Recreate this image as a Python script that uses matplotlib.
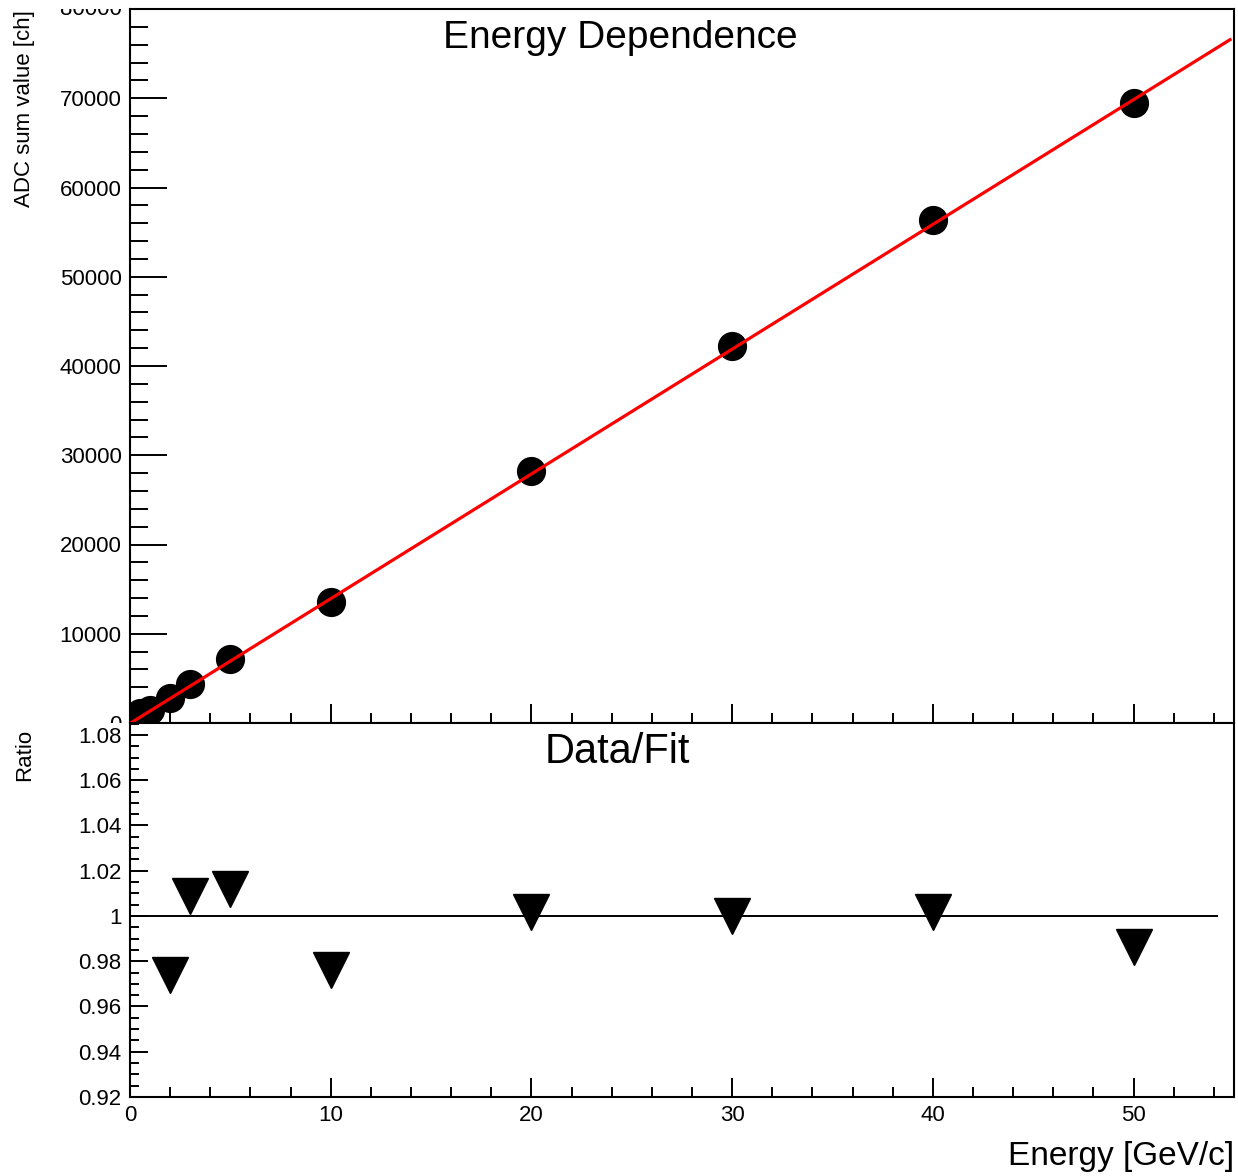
"""Energy dependence of the ADC sum with a Data/Fit ratio panel (ROOT-like look)."""
import matplotlib
matplotlib.use("Agg")
import matplotlib.pyplot as plt
from matplotlib.patches import Rectangle
from matplotlib.ticker import FuncFormatter, MultipleLocator
from matplotlib.transforms import Bbox, TransformedBbox

# --------------------------------------------------------------------------- #
# data
# --------------------------------------------------------------------------- #
energy = [0.5, 1, 2, 3, 5, 10, 20, 30, 40, 50]
adc_sum = [1100, 1450, 2800, 4350, 7170, 13580, 28220, 42220, 56330, 69430]

fit_slope = 1398.0
fit_offset = -50.0
fit_range = [0.0, 54.8]

ratio_energy = [2, 3, 5, 10, 20, 30, 40, 50]
ratio = [0.9739, 1.009, 1.0119, 0.9761, 1.0018, 0.9998, 1.0018, 0.9861]
unity_range = [0.0, 54.15]

Y_TOP = 80000

W, H, DPI = 1238, 1176, 100
FONT = "Liberation Sans"


def fx(px):
    return px / W


def fy(py):
    return 1 - py / H


plt.rcParams["font.family"] = [FONT, "DejaVu Sans"]

fig = plt.figure(figsize=(W / DPI, H / DPI), dpi=DPI)
left, right = fx(130), fx(1234)
split = fy(723)
ax_up = fig.add_axes([left, split, right - left, fy(9) - split])
ax_lo = fig.add_axes([left, fy(1097), right - left, split - fy(1097)])
ax_lo.set_zorder(2)

# lower pad covers the bottom half of the upper "0" label, like ROOT does
fig.patches.append(Rectangle((0, 0), 1, split, transform=fig.transFigure,
                             facecolor="white", edgecolor="none", zorder=1))


def style(ax, ymaj, ymin, ylen):
    ax.set_xlim(0, 55)
    ax.xaxis.set_major_locator(MultipleLocator(10))
    ax.xaxis.set_minor_locator(MultipleLocator(2))
    ax.yaxis.set_major_locator(MultipleLocator(ymaj))
    ax.yaxis.set_minor_locator(MultipleLocator(ymin))
    ax.tick_params(which="both", direction="in", top=False, right=False,
                   width=1.4, labelsize=16, pad=6)
    ax.tick_params(axis="x", which="major", length=14)
    ax.tick_params(axis="x", which="minor", length=7.5)
    ax.tick_params(axis="y", which="major", length=ylen)
    ax.tick_params(axis="y", which="minor", length=ylen / 2)
    for s in ax.spines.values():
        s.set_linewidth(1.5)


# --------------------------------------------------------------------------- #
# upper pad
# --------------------------------------------------------------------------- #
style(ax_up, 10000, 2000, 26.5)
ax_up.set_ylim(0, Y_TOP)
# the top label is cut by the pad edge in the original, drawn separately below
ax_up.yaxis.set_major_formatter(
    FuncFormatter(lambda v, _: "" if v >= Y_TOP else f"{v:.0f}"))
ax_up.tick_params(axis="x", labelbottom=False)
fit_y = [fit_slope * e + fit_offset for e in fit_range]
ax_up.plot(fit_range, fit_y, color="red", linewidth=2.3, zorder=3)
ax_up.plot(energy, adc_sum, "o", color="black", markersize=20, zorder=2)

top_lbl = fig.text(fx(122), fy(15), f"{Y_TOP}", fontsize=16,
                   ha="right", va="baseline")
top_lbl.set_clip_box(TransformedBbox(Bbox([[0, 0], [1, fy(9)]]),
                                     fig.transFigure))
top_lbl.set_clip_on(True)

# --------------------------------------------------------------------------- #
# lower pad
# --------------------------------------------------------------------------- #
style(ax_lo, 0.02, 0.005, 13)
ax_lo.set_ylim(0.92, 1.0853)
ax_lo.yaxis.set_major_formatter(FuncFormatter(lambda v, _: f"{round(v, 3):g}"))
ax_lo.plot(unity_range, [1, 1], color="black", linewidth=1.4)
ax_lo.plot(ratio_energy, ratio, "v", color="black", markersize=26)

# --------------------------------------------------------------------------- #
# texts
# --------------------------------------------------------------------------- #
fig.text(fx(620), fy(38), "Energy Dependence", fontsize=28,
         ha="center", va="center")
fig.text(fx(617), fy(752), "Data/Fit", fontsize=30, ha="center", va="center")
fig.text(fx(25), fy(10), "ADC sum value [ch]", fontsize=16, rotation=90,
         ha="center", va="top")
fig.text(fx(25), fy(729), "Ratio", fontsize=16, rotation=90,
         ha="center", va="top")
fig.text(fx(1234), fy(1156), "Energy [GeV/c]", fontsize=24,
         ha="right", va="center")

fig.savefig("out.png", dpi=DPI)
